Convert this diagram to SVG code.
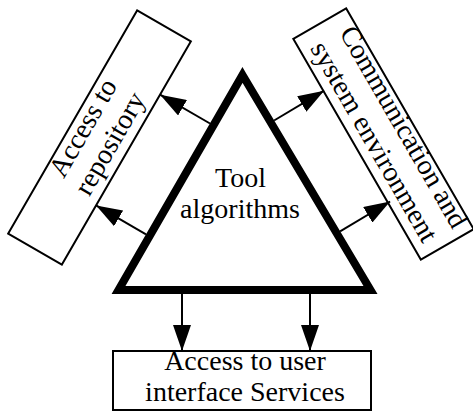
<svg xmlns="http://www.w3.org/2000/svg" width="473" height="412" viewBox="0 0 473 412">
<defs>
<style>
.box{fill:#fff;stroke:#000;stroke-width:2}
.tri{fill:#fff;stroke:#000;stroke-width:8;stroke-linejoin:miter;stroke-miterlimit:10}
.lbl{font-family:"Liberation Serif","Times New Roman",serif;font-size:28px;fill:#000;text-anchor:middle}
.arr{stroke:#000;stroke-width:2;fill:none;marker-end:url(#ah)}
</style>
<marker id="ah" markerUnits="userSpaceOnUse" markerWidth="26" markerHeight="18" viewBox="0 0 26 18" refX="26" refY="9" orient="auto">
<path d="M0,0 L26,9 L0,18 z" fill="#000"/>
</marker>
</defs>
<rect width="473" height="412" fill="#fff"/>
<g id="repository">
<g transform="translate(99.5,137.5) rotate(-60)">
<rect class="box" x="-129" y="-31" width="258" height="62"/>
<text class="lbl" x="0" y="-10">Access to</text>
<text class="lbl" x="0" y="21">repository</text>
</g>
</g>
<g id="communication">
<g transform="translate(383.5,134) rotate(60)">
<rect class="box" x="-127.5" y="-30.5" width="255" height="61"/>
<text class="lbl" x="4" y="-12">Communication and</text>
<text class="lbl" x="2" y="21">system environment</text>
</g>
</g>
<g id="userinterface">
<rect class="box" x="113" y="351" width="258" height="59"/>
<text class="lbl" x="245" y="370">Access to user</text>
<text class="lbl" x="245" y="401">interface Services</text>
</g>
<g id="connectors">
<line class="arr" x1="146" y1="234.3" x2="96.1" y2="205.4"/>
<line class="arr" x1="210" y1="123.5" x2="160.1" y2="94.7"/>
<line class="arr" x1="274.1" y1="120.5" x2="324.1" y2="90.7"/>
<line class="arr" x1="340.1" y1="231.3" x2="390.1" y2="201.5"/>
<line class="arr" x1="182" y1="294" x2="182" y2="351"/>
<line class="arr" x1="310" y1="294" x2="310" y2="351"/>
</g>
<g id="tool">
<polygon class="tri" points="242.5,75 370.5,290 118.5,290"/>
<text class="lbl" x="240.5" y="187">Tool</text>
<text class="lbl" x="240" y="218">algorithms</text>
</g>
</svg>
